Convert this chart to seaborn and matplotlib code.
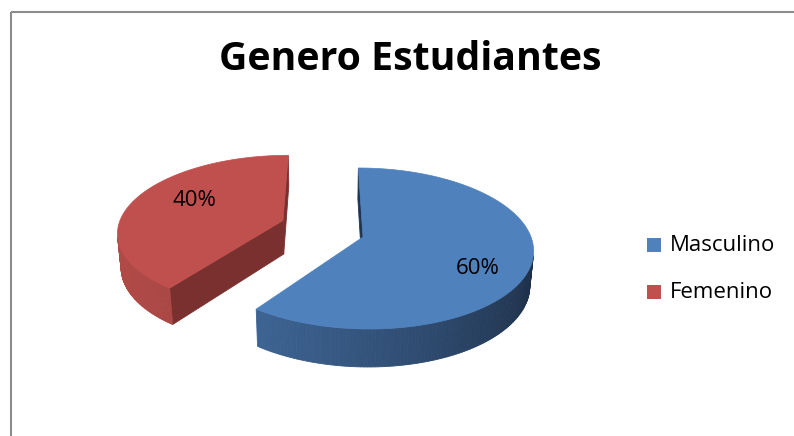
import numpy as np
import pandas as pd
import matplotlib
matplotlib.use("Agg")
import matplotlib.pyplot as plt
import seaborn as sns
from matplotlib.patches import Polygon, Rectangle
from matplotlib.colors import to_rgb

categories = ["Masculino", "Femenino"]
values = [60, 40]
title = "Genero Estudiantes"

top_colors = ["#4F81BD", "#C0504D"]
wall_light = ["#416A9C", "#B04A47"]
wall_dark = ["#1B2B42", "#6E2927"]
cut_colors = ["#1F3552", "#7A302E"]
explode = [0.0, 0.53]

df = pd.DataFrame({"genero": categories, "valor": values})
df["frac"] = df["valor"] / df["valor"].sum()

sns.set_theme(style="white")
plt.rcParams["font.family"] = ["Open Sans", "DejaVu Sans"]

W, H = 794, 436
fig = plt.figure(figsize=(W / 100, H / 100), dpi=100)
ax = fig.add_axes([0, 0, 1, 1])
ax.set_xlim(0, W)
ax.set_ylim(H, 0)
ax.axis("off")

# simple perspective camera looking down on the pie
elev = np.radians(28)
D = 7 * np.cos(elev)
scale = 168
cx, cy = 363, 237
camx = -0.22
thick = 0.235
cam = np.array([camx, -D * np.cos(elev), D * np.sin(elev)])
light = np.array([-1.0, -0.3])
light /= np.linalg.norm(light)
explode_turn = np.radians(6)


def project(x, y, z):
    depth = D + y * np.cos(elev) - z * np.sin(elev)
    X = cx + scale * ((x - camx) * D / depth + camx)
    Y = cy - scale * (y * np.sin(elev) + z * np.cos(elev)) * D / depth
    return X, Y


def mix(c1, c2, t):
    a, b = np.array(to_rgb(c1)), np.array(to_rgb(c2))
    return tuple(a * (1 - t) + b * t)


start = 0.0
label_pos = []
for i, row in df.iterrows():
    a0 = start
    a1 = start + 360 * row["frac"]
    start = a1
    mid = np.radians((a0 + a1) / 2)
    ox = explode[i] * np.sin(mid + explode_turn)
    oy = explode[i] * np.cos(mid + explode_turn)
    th = np.radians(np.linspace(a0, a1, 200))
    rx, ry = ox + np.sin(th), oy + np.cos(th)

    faces = []
    # cut faces along the two radial edges
    for ang, sgn in ((a0, -1), (a1, 1)):
        t = np.radians(ang)
        ex, ey = ox + np.sin(t), oy + np.cos(t)
        n = sgn * np.array([np.cos(t), -np.sin(t), 0.0])
        pc = np.array([(ox + ex) / 2, (oy + ey) / 2, -thick / 2])
        if np.dot(n, cam - pc) <= 0:
            continue
        pts = [(ox, oy, 0), (ex, ey, 0), (ex, ey, -thick), (ox, oy, -thick)]
        faces.append((pc[1] + 5, pts, cut_colors[i]))
    # outer wall, shaded by its facing direction
    for k in range(len(th) - 1):
        tm = 0.5 * (th[k] + th[k + 1])
        n = np.array([np.sin(tm), np.cos(tm), 0.0])
        p = np.array([ox + np.sin(tm), oy + np.cos(tm), -thick / 2])
        if np.dot(n, cam - p) <= 0:
            continue
        s = (np.dot(n[:2], light) + 1) / 2
        col = mix(wall_dark[i], wall_light[i], s)
        pts = [(rx[k], ry[k], 0), (rx[k + 1], ry[k + 1], 0),
               (rx[k + 1], ry[k + 1], -thick), (rx[k], ry[k], -thick)]
        faces.append((p[1], pts, col))
    faces.sort(key=lambda f: -f[0])
    for _, pts, col in faces:
        xy = [project(*q) for q in pts]
        ax.add_patch(Polygon(xy, closed=True, facecolor=col, edgecolor=col,
                             lw=0.6, zorder=2))
    top = [project(ox, oy, 0)] + [project(x, y, 0) for x, y in zip(rx, ry)]
    ax.add_patch(Polygon(top, closed=True, facecolor=top_colors[i],
                         edgecolor=top_colors[i], lw=0.5, zorder=3))
    label_pos.append((ox, oy, mid))

# percentage labels
label_r = [0.68, 0.60]
label_dy = [14.5, -7]
for i, (ox, oy, mid) in enumerate(label_pos):
    X, Y = project(ox + label_r[i] * np.sin(mid), oy + label_r[i] * np.cos(mid), 0)
    ax.text(X + (1.5 if i == 0 else 1), Y + label_dy[i], f"{df['valor'][i]:.0f}%",
            ha="center", va="center", fontsize=16, color="black", zorder=5)

ax.text(410, 70, title, ha="center", va="baseline", fontsize=28.3,
        fontweight="bold", color="black")

# legend
for i, name in enumerate(categories):
    y = 245 + 47 * i
    ax.add_patch(Rectangle((647, y - 7), 14, 14, facecolor=top_colors[i],
                           edgecolor="none"))
    ax.text(670, y, name, ha="left", va="center", fontsize=16, color="black")

# chart frame
ax.add_patch(Rectangle((11, 12), 900, 600, facecolor="none",
                       edgecolor="#8C8C8C", lw=1.5, zorder=6))

fig.savefig("out.png", dpi=100)
